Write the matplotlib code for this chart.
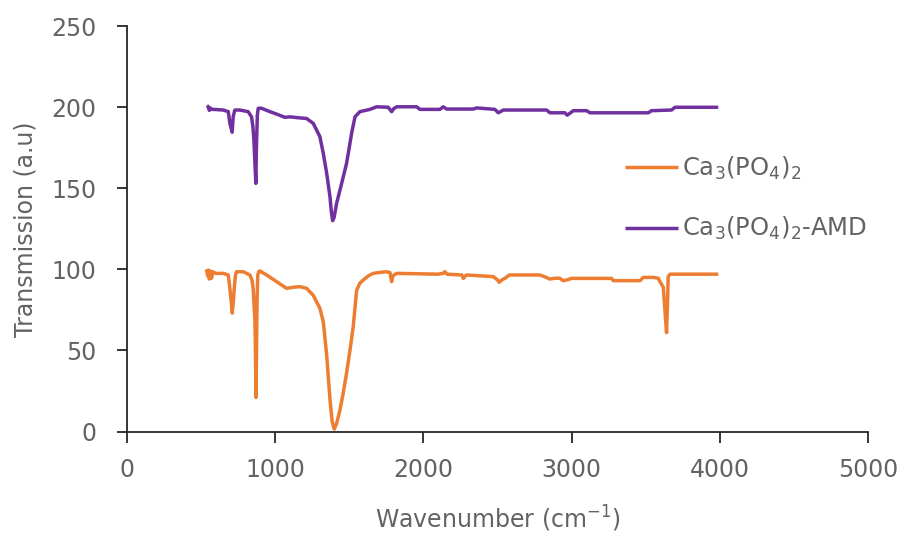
#!/usr/bin/env python3
"""FTIR transmission spectra of Ca3(PO4)2 before and after AMD treatment."""

import matplotlib.pyplot as plt

# Ca3(PO4)2 spectrum, values
CAP_WAVENUMBER = [
    537, 545, 549, 556, 563, 571, 580, 600, 650, 684, 695, 704, 711, 718, 724,
    732, 740, 785, 830, 845, 852, 858, 864, 868, 871, 874, 878, 883, 890, 897,
    943, 1010, 1077, 1130, 1167, 1212, 1257, 1302, 1325, 1348, 1370, 1385, 1399,
    1415, 1437, 1460, 1482, 1505, 1527, 1550, 1572, 1595, 1630, 1662, 1700, 1752,
    1775, 1786, 1795, 1820, 2100, 2134, 2145, 2160, 2260, 2270, 2290, 2472, 2500,
    2512, 2530, 2551, 2580, 2787, 2830, 2854, 2888, 2920, 2944, 2970, 3000, 3270,
    3282, 3462, 3484, 3552, 3585, 3597, 3619, 3630, 3641, 3648, 3652, 3665, 3990,
]
CAP_TRANSMISSION = [
    100, 96, 99.5, 94, 99, 94.5, 98.5, 97.5, 97.5, 96.5, 88, 80, 73, 80, 88,
    96, 98.5, 98.5, 96.5, 93, 88, 78, 67.7, 45, 21, 45, 80, 96.5, 98.5, 99,
    96.5, 92.4, 88.3, 89, 89.3, 88.3, 84, 76, 67.7, 47, 20, 6, 1.5,
    5, 13, 24, 36, 50, 64.6, 87, 91.5, 93.4, 96, 97.5, 98, 98.5,
    98, 92.4, 96, 97.5, 97, 97.5, 98.5, 97, 96.5, 94.4, 96.5, 95.5, 93.5,
    92, 93.5, 94.5, 96.5, 96.5, 95, 94, 94.5, 94.5, 93, 93.5, 94.4, 94.4,
    93, 93, 95, 95, 94.5, 92.3, 89, 75, 61, 80, 95.5, 97, 97,
]

# Ca3(PO4)2-AMD spectrum
AMD_WAVENUMBER = [
    540, 549, 556, 563, 571, 600, 650, 684, 695, 706, 710, 717, 728, 762, 818,
    841, 850, 857, 864, 870, 874, 880, 886, 908, 965, 1010, 1066, 1100, 1150,
    1212, 1257, 1302, 1325, 1348, 1370, 1380, 1388, 1398, 1415, 1449, 1482, 1500,
    1516, 1539, 1572, 1640, 1685, 1763, 1786, 1800, 1820, 1955, 1977, 2112, 2134,
    2157, 2337, 2360, 2483, 2506, 2540, 2832, 2854, 2955, 2971, 3012, 3102, 3124,
    3518, 3540, 3675, 3698, 3990,
]
AMD_TRANSMISSION = [
    201, 200.2, 198, 199.5, 198.6, 198.5, 198.2, 197.2, 190, 186, 184.5, 194, 198.2, 198.2, 197.2,
    194, 188, 179.7, 165, 153, 175, 195, 199.3, 199.3, 197.2, 195.7, 193.7, 194, 193.5,
    193, 190, 181.8, 171.5, 159.2, 144.8, 135, 130, 132, 140.7, 153, 165.3, 175,
    183.8, 194, 197.2, 198.6, 200.2, 199.9, 197.2, 199, 200.2, 200.2, 198.6, 198.6, 200.2,
    198.8, 198.8, 199.5, 198.6, 196.5, 198.2, 198.2, 196.5, 196.5, 195, 197.8, 197.8, 196.5,
    196.5, 197.8, 198.2, 199.9, 199.9,
]

LABELS = ["Ca$_3$(PO$_4$)$_2$", "Ca$_3$(PO$_4$)$_2$-AMD"]
COLORS = ["#ED7D31", "#7030A0"]
X_TICKS = [0, 1000, 2000, 3000, 4000, 5000]
Y_TICKS = [0, 50, 100, 150, 200, 250]

TEXT_COLOR = "#636363"
AXIS_COLOR = "#262626"


def main():
    plt.rcParams["font.family"] = ["DejaVu Sans"]
    plt.rcParams["mathtext.fontset"] = "dejavusans"

    fig = plt.figure(figsize=(9, 5.33), dpi=100)
    ax = fig.add_axes([0.141, 0.1904, 0.8234, 0.7608])

    series = [
        (CAP_WAVENUMBER, CAP_TRANSMISSION),
        (AMD_WAVENUMBER, AMD_TRANSMISSION),
    ]
    for (xs, ys), label, color in zip(series, LABELS, COLORS):
        ax.plot(xs, ys, color=color, lw=2.5, label=label,
                solid_joinstyle="round", solid_capstyle="butt")

    ax.set_xlim(0, 5000)
    ax.set_ylim(0, 250)
    ax.set_xticks(X_TICKS)
    ax.set_yticks(Y_TICKS)

    for side in ("top", "right"):
        ax.spines[side].set_visible(False)
    for side in ("left", "bottom"):
        ax.spines[side].set_color(AXIS_COLOR)
        ax.spines[side].set_linewidth(1.3)

    ax.tick_params(axis="x", direction="out", length=8, width=1.3, pad=11,
                   color=AXIS_COLOR, labelcolor=TEXT_COLOR, labelsize=17)
    ax.tick_params(axis="y", direction="out", length=7, width=1.3, pad=15,
                   color=AXIS_COLOR, labelcolor=TEXT_COLOR, labelsize=17)

    ax.set_xlabel("Wavenumber (cm$^{-1}$)", fontsize=17, color=TEXT_COLOR, labelpad=16)
    ax.set_ylabel("Transmission (a.u)", fontsize=17, color=TEXT_COLOR, labelpad=10)

    ax.legend(
        loc="upper left",
        bbox_to_anchor=(625 / 900, 1 - 155 / 533),
        bbox_transform=fig.transFigure,
        frameon=False,
        fontsize=17.5,
        labelcolor=TEXT_COLOR,
        handlelength=2.2,
        handletextpad=0.15,
        labelspacing=1.35,
        borderpad=0,
        borderaxespad=0,
    )

    fig.savefig("out.png", dpi=100)
    plt.close(fig)


if __name__ == "__main__":
    main()
